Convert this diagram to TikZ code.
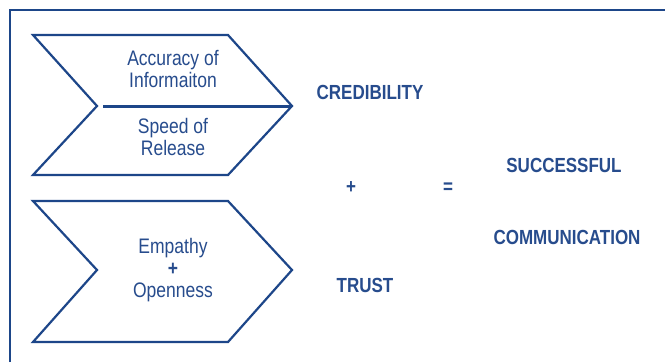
\documentclass[tikz,border=0pt]{standalone}
\usepackage{graphicx}
\usepackage{fontspec}
\setmainfont{Liberation Sans}
\definecolor{navy}{HTML}{1D4689}
\definecolor{txtblue}{HTML}{274C8D}
\newcommand{\tallt}[1]{\scalebox{1}[1.2]{#1}}
\begin{document}
\begin{tikzpicture}[x=1pt,y=-1pt,
  chev/.style={draw=navy,line width=2.2pt,line join=miter},
  lbl/.style={text=txtblue,font=\fontsize{17.5}{22}\selectfont,align=center,inner sep=0pt},
  big/.style={text=txtblue,font=\fontsize{17}{20}\selectfont\bfseries,inner sep=0pt}]
\useasboundingbox (0,0) rectangle (665,362);
\fill[white] (0,0) rectangle (665,362);
% frame
\draw[navy,line width=2.6pt] (10,362) -- (10,10) -- (665,10);
% top chevron
\draw[chev] (33,35) -- (228,35) -- (292,106) -- (228,175) -- (33,175) -- (97,106) -- cycle;
\draw[navy,line width=3pt] (103,106) -- (292,106);
% bottom chevron
\draw[chev] (33,201) -- (228,201) -- (292,270) -- (228,342) -- (33,342) -- (97,270) -- cycle;
% texts
\node[lbl] (acc) at (173,69) {\tallt{Accuracy of}\\\tallt{Informaiton}};
\node[lbl] (spd) at (173,137) {\tallt{Speed of}\\\tallt{Release}};
\node[lbl] (emp) at (173,270) {\tallt{Empathy}\\\tallt{\textbf{+}}\\\tallt{Openness}};
\node[big] (cred) at (370,92) {\tallt{CREDIBILITY}};
\node[big] (plus) at (351,188) {\tallt{+}};
\node[big] (eq) at (448,188) {\tallt{=}};
\node[big] (succ) at (564,165) {\tallt{SUCCESSFUL}};
\node[big] (comm) at (567,237) {\tallt{COMMUNICATION}};
\node[big] (trust) at (365,285) {\tallt{TRUST}};
\end{tikzpicture}
\end{document}
